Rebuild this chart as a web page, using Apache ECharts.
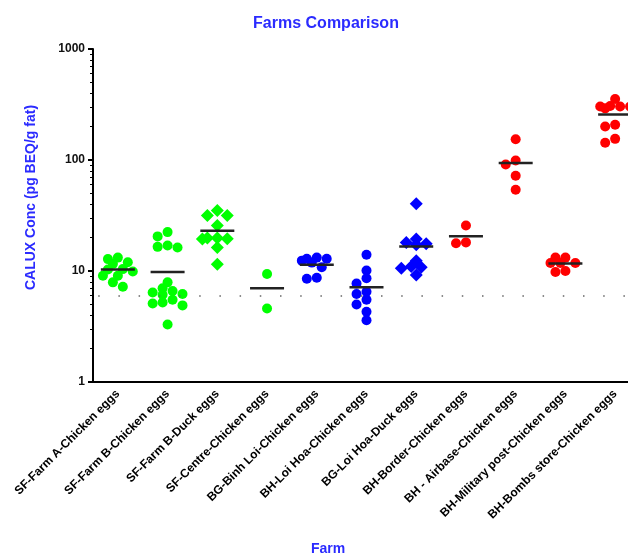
<!DOCTYPE html>
<html>
<head>
<meta charset="utf-8">
<title>Farms Comparison</title>
<script src="https://cdn.jsdelivr.net/npm/echarts@6/dist/echarts.min.js"></script>
<style>
  html, body { margin: 0; padding: 0; background: #ffffff; }
  #chart { width: 628px; height: 554px; }
</style>
</head>
<body>
<div id="chart"></div>
<script>
// farms / sample types on the x axis
const categories = [
  'SF-Farm A-Chicken eggs',
  'SF-Farm B-Chicken eggs',
  'SF-Farm B-Duck eggs',
  'SF-Centre-Chicken eggs',
  'BG-Binh Loi-Chicken eggs',
  'BH-Loi Hoa-Chicken eggs',
  'BG-Loi Hoa-Duck eggs',
  'BH-Border-Chicken eggs',
  'BH - Airbase-Chicken eggs',
  'BH-Military post-Chicken eggs',
  'BH-Bombs store-Chicken eggs'
];

// CALUX concentrations (pg BEQ/g fat), one array per group
const farmAChicken = [13.2, 12.0, 12.8, 11.6, 10.4, 10.3, 9.9, 9.05, 9.05, 7.9, 7.2];
const farmBChicken = [22.4, 20.5, 17.0, 16.3, 16.5, 7.9, 6.6, 7.0, 6.4, 6.2, 6.1, 5.5, 5.1, 5.2, 4.9, 3.3];
const farmBDuck = [35.0, 31.6, 31.6, 25.7, 19.4, 19.8, 19.8, 19.5, 16.3, 11.5];
const centreChicken = [9.4, 4.6];
const binhLoiChicken = [12.9, 13.2, 12.4, 11.9, 12.9, 10.8, 8.5, 8.7];
const loiHoaChicken = [14.0, 10.1, 8.6, 7.7, 6.2, 6.5, 5.5, 5.0, 4.3, 3.6];
const loiHoaDuck = [40.3, 18.1, 17.2, 19.4, 17.6, 11.0, 12.4, 10.6, 10.8, 9.2];
const borderChicken = [25.7, 17.8, 18.1];
const airbaseChicken = [154, 91, 99, 72, 54];
const militaryChicken = [13.2, 13.2, 11.8, 11.8, 11.8, 9.8, 10.0];
const bombsChicken = [354, 303, 307, 303, 292, 303, 208, 200, 143, 155];

// dotted reference level
const detectionLimit = 6;

const groups = [
  farmAChicken, farmBChicken, farmBDuck, centreChicken, binhLoiChicken,
  loiHoaChicken, loiHoaDuck, borderChicken, airbaseChicken, militaryChicken, bombsChicken
];

// marker style per group
const groupColors = ['#00ff00', '#00ff00', '#00ff00', '#00ff00', '#0000ff', '#0000ff',
  '#0000ff', '#ff0000', '#ff0000', '#ff0000', '#ff0000'];
const groupSymbols = ['circle', 'circle', 'diamond', 'circle', 'circle', 'circle',
  'diamond', 'circle', 'circle', 'circle', 'circle'];

const font = 'Liberation Sans, Arial, sans-serif';
const blue = '#2b2bff';

// beeswarm: push points sideways until they no longer overlap too much
// (rough px per category / per decade, only used for spacing)
function spread(values) {
  const pxX = 49.7, pxY = 111, minDist = 7.5, maxOff = 0.3;
  const order = values.map((v, j) => j).sort((a, b) => values[b] - values[a]);
  const offs = new Array(values.length).fill(0);
  const placed = [];
  order.forEach(j => {
    const lv = Math.log10(values[j]);
    let best = 0, bestDist = -1;
    for (let k = 0; k < 7; k++) {
      const off = k === 0 ? 0 : (k % 2 ? -1 : 1) * Math.ceil(k / 2) * 0.1;
      if (Math.abs(off) > maxOff + 1e-9) continue;
      let nearest = Infinity;
      placed.forEach(p => {
        const dx = (p.off - off) * pxX, dy = (p.lv - lv) * pxY;
        nearest = Math.min(nearest, Math.sqrt(dx * dx + dy * dy));
      });
      if (nearest >= minDist) { best = off; bestDist = nearest; break; }
      if (nearest > bestDist) { best = off; bestDist = nearest; }
    }
    placed.push({ off: best, lv });
    offs[j] = best;
  });
  return offs;
}

const mean = arr => arr.reduce((s, v) => s + v, 0) / arr.length;

// minor ticks on the log axis: 2..9 of every decade
const minorTicks = [];
[1, 10, 100].forEach(d => {
  for (let m = 2; m <= 9; m++) minorTicks.push(m * d);
});

const series = groups.map((vals, i) => {
  const offs = spread(vals);
  return {
    type: 'scatter',
    xAxisIndex: 1,
    symbol: groupSymbols[i],
    symbolSize: groupSymbols[i] === 'diamond' ? 13 : 10,
    itemStyle: { color: groupColors[i], opacity: 1 },
    data: vals.map((v, j) => [i + offs[j], v]),
    z: 2
  };
});

// mean bars + dotted limit line
series.push({
  type: 'scatter',
  xAxisIndex: 1,
  symbol: 'rect',
  symbolSize: [34, 2.5],
  itemStyle: { color: '#222222', opacity: 1 },
  data: groups.map((vals, i) => [i, mean(vals)]),
  z: 5,
  markLine: {
    silent: true,
    symbol: 'none',
    label: { show: false },
    lineStyle: { type: [1.5, 18.7], dashOffset: 15, color: '#666666', width: 1.5 },
    data: [{ yAxis: detectionLimit }]
  }
});

const chart = echarts.init(document.getElementById('chart'));
chart.setOption({
  animation: false,
  backgroundColor: '#ffffff',
  title: [
    {
      text: 'Farms Comparison',
      left: 321,
      top: 11,
      textAlign: 'center',
      textStyle: { fontSize: 16, fontWeight: 'bold', color: blue, fontFamily: font }
    },
    {
      text: 'Farm',
      left: 323,
      top: 537,
      textAlign: 'center',
      textStyle: { fontSize: 14, fontWeight: 'bold', color: blue, fontFamily: font }
    }
  ],
  grid: {
    left: 93,
    right: -12,
    top: 49,
    bottom: 172,
    outerBoundsMode: 'none'
  },
  xAxis: [
    {
      type: 'category',
      data: categories,
      boundaryGap: true,
      axisLine: { onZero: false, lineStyle: { color: '#000', width: 2 } },
      axisTick: { alignWithLabel: true, length: 6, lineStyle: { color: '#000', width: 2 } },
      axisLabel: {
        interval: 0,
        rotate: 45,
        margin: 10,
        fontSize: 12,
        fontWeight: 'bold',
        color: '#000',
        fontFamily: font
      },
      splitLine: { show: false }
    },
    {
      type: 'value',
      min: -0.5,
      max: 10.5,
      show: false
    }
  ],
  yAxis: [
    {
      type: 'log',
      logBase: 10,
      min: 1,
      max: 1000,
      name: 'CALUX Conc (pg BEQ/g fat)',
      nameLocation: 'middle',
      nameGap: 55,
      nameTextStyle: {
        fontSize: 14,
        fontWeight: 'bold',
        color: blue,
        fontFamily: font,
        padding: [0, 0, 0, 36]
      },
      axisLine: { show: true, onZero: false, lineStyle: { color: '#000', width: 2 } },
      axisTick: { show: true, length: 5, lineStyle: { color: '#000', width: 2 } },
      axisLabel: {
        margin: 8,
        fontSize: 12,
        fontWeight: 'bold',
        color: '#111',
        fontFamily: font,
        formatter: v => String(v)
      },
      splitLine: { show: false }
    },
    {
      type: 'log',
      logBase: 10,
      min: 1,
      max: 1000,
      position: 'left',
      axisLine: { show: false, onZero: false },
      axisLabel: { show: false },
      axisTick: { show: true, customValues: minorTicks, length: 3, lineStyle: { color: '#000', width: 1 } },
      splitLine: { show: false }
    }
  ],
  series: series
});
</script>
</body>
</html>
